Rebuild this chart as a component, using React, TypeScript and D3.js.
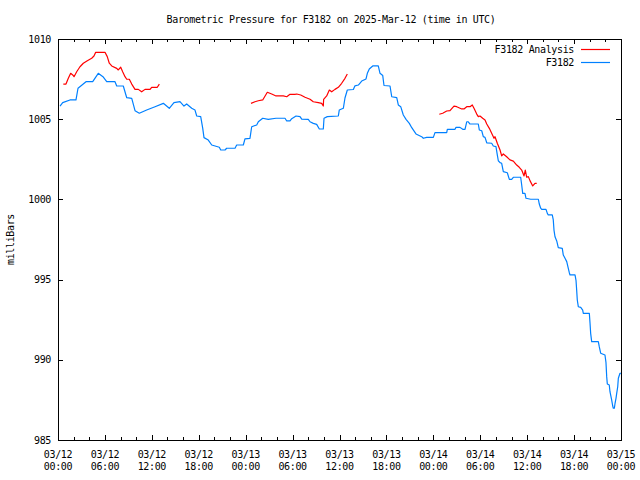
import React from "react";
import * as d3 from "d3";

const title = "Barometric Pressure for F3182 on 2025-Mar-12 (time in UTC)";
const yLabel = "milliBars";
const yTicks = [985, 990, 995, 1000, 1005, 1010];
const xTickHours = [0, 6, 12, 18, 24, 30, 36, 42, 48, 54, 60, 66, 72];
const xTickDates = ["03/12", "03/12", "03/12", "03/12", "03/13", "03/13", "03/13", "03/13", "03/14", "03/14", "03/14", "03/14", "03/15"];
const xTickTimes = ["00:00", "06:00", "12:00", "18:00", "00:00", "06:00", "12:00", "18:00", "00:00", "06:00", "12:00", "18:00", "00:00"];
const legendNames = ["F3182 Analysis", "F3182"];
const colors = ["#ff0000", "#0080ff"];

// Station observations: hours since 2025-03-12 00:00 UTC, pressure (mb)
const obsHours = [0.26, 0.6, 1.53, 2.3, 2.56, 3.58, 4.44, 5.15, 5.75, 6.23, 7.29, 7.51, 8.35, 8.79, 9.43, 9.85, 10.4, 11.34, 12.41, 13.47, 14.23, 14.83, 15.6, 16.11, 16.46, 17.1, 17.52, 17.74, 18.25, 18.51, 18.67, 19.22, 19.66, 20.63, 20.81, 21.36, 21.57, 22.64, 22.85, 23.7, 23.91, 24.55, 24.77, 25.41, 25.62, 26.18, 26.89, 27.88, 29.03, 29.25, 29.67, 29.89, 30.44, 30.95, 31.17, 32.01, 32.23, 32.65, 33.08, 33.42, 33.93, 34.02, 34.44, 35.85, 35.97, 36.49, 36.7, 37.0, 37.77, 37.98, 38.41, 38.84, 39.39, 39.56, 39.81, 40.25, 40.96, 41.18, 41.53, 41.69, 42.46, 42.68, 43.32, 43.52, 43.83, 44.16, 44.51, 44.93, 45.24, 45.78, 46.51, 46.72, 47.15, 48.0, 48.21, 49.71, 49.79, 50.77, 50.9, 51.41, 51.76, 52.05, 52.27, 52.47, 52.69, 53.75, 53.88, 54.19, 54.39, 54.61, 54.83, 55.46, 55.67, 56.01, 56.18, 56.31, 56.53, 56.74, 56.95, 57.46, 57.72, 58.02, 58.23, 59.17, 59.3, 59.43, 59.72, 59.85, 60.45, 61.43, 61.55, 61.73, 61.86, 62.41, 62.58, 62.7, 63.21, 63.34, 63.43, 63.56, 63.78, 63.98, 64.49, 64.62, 64.84, 65.06, 65.26, 65.39, 65.48, 66.12, 66.25, 66.33, 66.41, 66.54, 66.85, 67.1, 67.18, 67.95, 68.04, 68.12, 68.25, 69.1, 69.22, 69.4, 69.95, 70.08, 70.17, 70.25, 70.5, 70.59, 70.72, 70.81, 70.94, 71.02, 71.15, 71.24, 71.36, 71.45, 71.58, 71.66, 71.87, 72.0];
const obsValues = [1005.82, 1006.03, 1006.2, 1006.2, 1006.93, 1007.34, 1007.34, 1007.86, 1007.65, 1007.34, 1007.34, 1007.07, 1007.07, 1006.34, 1006.3, 1005.53, 1005.37, 1005.57, 1005.78, 1005.99, 1005.68, 1006.03, 1006.09, 1005.82, 1005.95, 1005.68, 1005.57, 1005.2, 1005.16, 1004.43, 1003.85, 1003.7, 1003.39, 1003.25, 1003.08, 1003.08, 1003.19, 1003.19, 1003.39, 1003.39, 1003.77, 1003.81, 1004.53, 1004.64, 1004.84, 1005.06, 1004.99, 1005.06, 1005.06, 1004.89, 1004.89, 1005.03, 1005.2, 1005.16, 1005.01, 1004.99, 1004.84, 1004.74, 1004.68, 1004.39, 1004.39, 1005.06, 1005.16, 1005.2, 1005.57, 1005.68, 1006.32, 1006.82, 1006.85, 1007.08, 1007.13, 1007.38, 1007.51, 1007.86, 1008.13, 1008.32, 1008.32, 1007.86, 1007.72, 1007.1, 1007.07, 1006.4, 1006.34, 1005.89, 1005.78, 1005.26, 1004.99, 1004.74, 1004.47, 1004.08, 1003.91, 1003.81, 1003.87, 1003.87, 1004.16, 1004.16, 1004.37, 1004.37, 1004.49, 1004.49, 1004.37, 1004.37, 1004.84, 1004.84, 1004.7, 1004.7, 1004.33, 1004.28, 1003.91, 1003.87, 1003.53, 1003.5, 1003.33, 1003.29, 1002.77, 1002.41, 1002.29, 1002.25, 1001.73, 1001.66, 1001.25, 1001.25, 1001.38, 1001.38, 1000.9, 1000.38, 1000.38, 1000.07, 1000.01, 1000.01, 999.71, 999.45, 999.38, 999.38, 999.13, 999.03, 999.03, 998.72, 998.09, 997.67, 997.41, 996.99, 996.95, 996.53, 996.33, 996.12, 995.7, 995.43, 995.29, 995.29, 994.93, 994.35, 993.73, 993.31, 993.27, 993.1, 992.9, 992.9, 992.28, 991.65, 991.13, 991.13, 990.82, 990.41, 990.3, 989.82, 988.95, 988.49, 988.43, 988.01, 987.7, 987.49, 987.12, 986.98, 986.98, 987.29, 987.6, 987.91, 988.32, 988.85, 989.16, 989.16];

// Analysis: three segments
const analysisHours1 = [0.68, 1.02, 1.32, 1.62, 1.88, 2.05, 2.39, 2.81, 3.24, 3.75, 4.31, 4.6, 4.82, 6.01, 6.3, 6.56, 6.87, 7.51, 7.71, 8.02, 8.27, 8.57, 8.79, 9.12, 9.43, 9.85, 10.27, 10.7, 11.13, 11.77, 11.98, 12.7, 12.96];
const analysisValues1 = [1007.19, 1007.19, 1007.55, 1007.86, 1007.76, 1007.65, 1007.96, 1008.27, 1008.49, 1008.65, 1008.8, 1008.94, 1009.17, 1009.17, 1008.9, 1008.49, 1008.32, 1008.17, 1008.07, 1008.24, 1007.96, 1007.65, 1007.49, 1007.49, 1007.19, 1006.86, 1006.86, 1006.71, 1006.86, 1006.86, 1006.99, 1006.99, 1007.19];
const analysisHours2 = [24.68, 25.19, 25.62, 26.18, 26.77, 27.33, 27.88, 28.81, 29.25, 29.67, 30.31, 30.53, 31.04, 31.59, 32.23, 32.65, 33.29, 33.72, 33.93, 33.97, 34.36, 34.7, 35.0, 35.42, 35.85, 36.28, 36.7, 37.0];
const analysisValues2 = [1005.99, 1006.09, 1006.15, 1006.2, 1006.68, 1006.57, 1006.45, 1006.45, 1006.4, 1006.55, 1006.55, 1006.57, 1006.51, 1006.37, 1006.24, 1006.09, 1006.03, 1005.99, 1005.82, 1006.24, 1006.45, 1006.82, 1006.71, 1006.86, 1006.99, 1007.24, 1007.55, 1007.82];
const analysisHours3 = [48.76, 49.2, 49.71, 50.13, 50.64, 50.99, 51.63, 51.92, 52.27, 52.69, 52.98, 53.2, 53.55, 53.75, 53.97, 54.31, 54.61, 54.83, 55.16, 55.46, 55.76, 55.89, 56.18, 56.53, 56.74, 56.95, 57.38, 57.8, 58.23, 58.66, 58.99, 59.3, 59.6, 59.76, 59.94, 60.15, 60.36, 60.71, 61.0, 61.22];
const analysisValues3 = [1005.31, 1005.37, 1005.51, 1005.53, 1005.82, 1005.78, 1005.64, 1005.64, 1005.78, 1005.78, 1005.89, 1005.68, 1005.32, 1005.16, 1005.2, 1005.06, 1004.95, 1004.7, 1004.43, 1004.12, 1003.81, 1003.91, 1003.5, 1003.08, 1002.71, 1002.83, 1002.66, 1002.46, 1002.39, 1002.14, 1002.0, 1001.83, 1001.46, 1001.83, 1001.38, 1001.42, 1001.17, 1000.84, 1001.0, 1001.0];

const W = 640;
const H = 480;
const left = 58;
const right = 621;
const top = 39;
const bottom = 440;
const font = "'DejaVu Sans Mono', 'Liberation Mono', monospace";
const fs = 10;
const ls = -0.35;

export default function App() {
  const x = d3.scaleLinear().domain([0, 72]).range([left, right]);
  const y = d3.scaleLinear().domain([985, 1010]).range([bottom, top]);
  const line = d3
    .line<[number, number]>()
    .x((d) => x(d[0]))
    .y((d) => y(d[1]));
  const zip = (a: number[], b: number[]) => a.map((v, i) => [v, b[i]] as [number, number]);
  const obsPath = line(zip(obsHours, obsValues)) || "";
  const anPaths = [
    line(zip(analysisHours1, analysisValues1)) || "",
    line(zip(analysisHours2, analysisValues2)) || "",
    line(zip(analysisHours3, analysisValues3)) || "",
  ];
  const minorHours = d3.range(0, 73, 2);

  const textStyle = { fontFamily: font, fontSize: fs, letterSpacing: ls } as React.CSSProperties;

  return (
    <svg width={W} height={H} style={{ display: "block", position: "absolute", left: 0, top: 0, background: "#fff" }}>
      <rect x={0} y={0} width={W} height={H} fill="#fff" />
      <text x={331} y={23} textAnchor="middle" style={textStyle} fill="#000">
        {title}
      </text>
      {/* minor x ticks */}
      {minorHours.map((h) => (
        <g key={"m" + h} stroke="#000" strokeWidth={1} shapeRendering="crispEdges">
          <line x1={Math.round(x(h)) + 0.5} x2={Math.round(x(h)) + 0.5} y1={bottom} y2={bottom - 3} />
          <line x1={Math.round(x(h)) + 0.5} x2={Math.round(x(h)) + 0.5} y1={top} y2={top + 3} />
        </g>
      ))}
      {xTickHours.map((h, i) => (
        <g key={"x" + h}>
          <line x1={Math.round(x(h)) + 0.5} x2={Math.round(x(h)) + 0.5} y1={bottom} y2={bottom - 5} stroke="#000" shapeRendering="crispEdges" />
          <line x1={Math.round(x(h)) + 0.5} x2={Math.round(x(h)) + 0.5} y1={top} y2={top + 5} stroke="#000" shapeRendering="crispEdges" />
          <text x={x(h)} y={458} textAnchor="middle" style={textStyle} fill="#000">
            {xTickDates[i]}
          </text>
          <text x={x(h)} y={470} textAnchor="middle" style={textStyle} fill="#000">
            {xTickTimes[i]}
          </text>
        </g>
      ))}
      {yTicks.map((v) => (
        <g key={"y" + v}>
          <line x1={left} x2={left + 5} y1={Math.round(y(v)) + 0.5} y2={Math.round(y(v)) + 0.5} stroke="#000" shapeRendering="crispEdges" />
          <line x1={right} x2={right - 5} y1={Math.round(y(v)) + 0.5} y2={Math.round(y(v)) + 0.5} stroke="#000" shapeRendering="crispEdges" />
          <text x={51} y={y(v) + 3.5} textAnchor="end" style={textStyle} fill="#000">
            {v}
          </text>
        </g>
      ))}
      <text transform={`translate(14,${(top + bottom) / 2}) rotate(-90)`} textAnchor="middle" style={textStyle} fill="#000">
        {yLabel}
      </text>
      <g fill="none" strokeWidth={1.2} strokeLinejoin="round">
        {anPaths.map((p, i) => (
          <path key={"a" + i} d={p} stroke={colors[0]} />
        ))}
        <path d={obsPath} stroke={colors[1]} />
      </g>
      <rect x={left + 0.5} y={top + 0.5} width={right - left} height={bottom - top} fill="none" stroke="#000" strokeWidth={1} shapeRendering="crispEdges" />
      {legendNames.map((n, i) => (
        <g key={n}>
          <text x={574} y={53 + i * 13} textAnchor="end" style={textStyle} fill="#000">
            {n}
          </text>
          <line x1={581} x2={610} y1={49.5 + i * 13} y2={49.5 + i * 13} stroke={colors[i]} strokeWidth={1.2} />
        </g>
      ))}
    </svg>
  );
}
